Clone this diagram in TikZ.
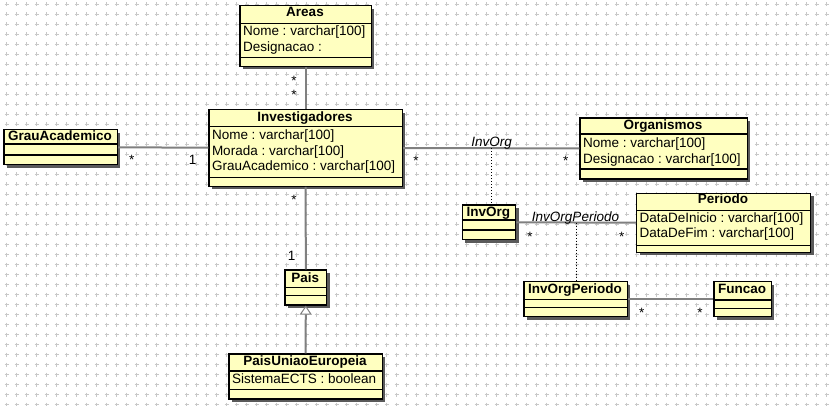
\documentclass[tikz,border=0pt]{standalone}
\usepackage{fontspec}
\setmainfont{Liberation Sans}
\usetikzlibrary{shadows,arrows.meta,calc}
\definecolor{clsfill}{HTML}{FFFFC0}
\definecolor{shadowc}{HTML}{5A5A5A}
\definecolor{assocc}{HTML}{808080}
\definecolor{gridc}{HTML}{C8C8C8}
\frenchspacing
\newcommand\umlcls[7]{% name, x1, y1, x2, y2, sep1, sep2
  \pgfmathsetmacro\clsw{#4-#2}\pgfmathsetmacro\clsh{#5-#3}%
  \node[cls, minimum width=\clsw pt, minimum height=\clsh pt, anchor=north west] (#1) at (#2,#3) {};
  \draw[sepline] (#1.west |- 0,#6) -- (#1.east |- 0,#6) (#1.west |- 0,#7) -- (#1.east |- 0,#7);
}
\begin{document}
\begin{tikzpicture}[x=1pt,y=-1pt,
  cls/.style={draw=black, line width=1.3pt, fill=clsfill, inner sep=0pt,
    drop shadow={shadow xshift=3pt, shadow yshift=-3pt, fill=shadowc, opacity=1}},
  sepline/.style={draw=black, line width=1.2pt},
  ttl/.style={font=\fontsize{13.5}{15}\selectfont\bfseries, inner sep=0pt, anchor=base},
  attr/.style={font=\fontsize{13.5}{15}\selectfont, inner sep=0pt, anchor=base west},
  mult/.style={font=\fontsize{13.5}{15}\selectfont, inner sep=0pt, anchor=base},
  aname/.style={font=\fontsize{13.5}{15}\selectfont\itshape, inner sep=0pt, anchor=base},
  assoc/.style={draw=assocc, line width=2pt},
  dotc/.style={draw=black, line width=1pt, dash pattern=on 1pt off 2pt},
  gridl/.style={draw=gridc, line width=1pt, dash pattern=on 4pt off 6pt},
]
\fill[white] (0,0) rectangle (835,406);
\useasboundingbox (0,0) rectangle (835,406);
% background grid of crosses
\foreach \j in {0,...,40} { \draw[gridl] (4.5,4.5+10*\j) -- (832,4.5+10*\j); }
\foreach \i in {0,...,82} { \draw[gridl] (6.5+10*\i,2.5) -- (6.5+10*\i,408); }

% classes
\umlcls{areas}{239.3}{5}{370.7}{65.7}{23.3}{57.3}
\umlcls{inv}{208.3}{109}{401.7}{185.7}{126.7}{177.3}
\umlcls{grau}{3.3}{129}{116.7}{164}{144}{155}
\umlcls{org}{579.3}{117.3}{746.7}{178.3}{134}{169}
\umlcls{invorg}{461.7}{204.3}{515}{239}{220}{230}
\umlcls{per}{636}{192.7}{810}{251.7}{210.7}{245.7}
\umlcls{iop}{523.3}{281}{626.7}{316}{299.3}{307.7}
\umlcls{func}{713.3}{281}{770.7}{316}{300}{308.3}
\umlcls{pais}{284.3}{269.3}{326}{304.3}{287.3}{295.7}
\umlcls{pue}{228.3}{353.3}{381.7}{398.3}{371}{389.3}

% titles
\node[ttl] (areas-t) at (305,17) {Areas};
\node[ttl] (inv-t) at (305,121.5) {Investigadores};
\node[ttl] (grau-t) at (60,140.5) {GrauAcademico};
\node[ttl] (org-t) at (663,129.5) {Organismos};
\node[ttl] (invorg-t) at (488.3,216.5) {InvOrg};
\node[ttl] (per-t) at (723,204) {Periodo};
\node[ttl] (iop-t) at (575,293.5) {InvOrgPeriodo};
\node[ttl] (func-t) at (742,293.5) {Funcao};
\node[ttl] (pais-t) at (305.2,282) {Pais};
\node[ttl] (pue-t) at (305,365) {PaisUniaoEuropeia};

% attributes
\node[attr] (areas-a1) at (242.8,36) {Nome : varchar[100]};
\node[attr] (areas-a2) at (242.8,51.2) {Designacao :};
\node[attr] (inv-a1) at (211.8,139.5) {Nome : varchar[100]};
\node[attr] (inv-a2) at (211.8,155.2) {Morada : varchar[100]};
\node[attr] (inv-a3) at (211.8,171) {GrauAcademico : varchar[100]};
\node[attr] (org-a1) at (582.8,147.3) {Nome : varchar[100]};
\node[attr] (org-a2) at (582.8,163.3) {Designacao : varchar[100]};
\node[attr] (per-a1) at (639.5,222.3) {DataDeInicio : varchar[100]};
\node[attr] (per-a2) at (639.5,237.7) {DataDeFim : varchar[100]};
\node[attr] (pue-a1) at (231.8,383.3) {SistemaECTS : boolean};

% associations
\draw[assoc] (areas) -- (inv);
\draw[assoc] (grau) -- (inv);
\draw[assoc] (inv) -- (org);
\draw[assoc] (inv) -- (pais);
\draw[assoc] (invorg) -- (per);
\draw[assoc] (iop) -- (func);
\draw[assoc, -{Triangle[open, length=9pt, width=12pt, line width=1pt, fill=white]}] (pue) -- (pais);

% association classes
\coordinate (io-mid) at ($(inv.east)!0.5!(org.west)$);
\coordinate (iop-mid) at ($(invorg.east)!0.5!(per.west)$);
\draw[dotc] (io-mid) -- (io-mid |- invorg.north);
\draw[dotc] (iop-mid) -- (iop-mid |- iop.north);
\node[aname] (io-name) at (491.7,146.5) {InvOrg};
\node[aname] (iop-name) at (575.5,221.5) {InvOrgPeriodo};

% multiplicities
\node[mult] (m1) at (294,86) {*};
\node[mult] (m2) at (294,99.4) {*};
\node[mult] (m3) at (131.7,164.4) {*};
\node[mult] (m4) at (192.7,165) {1};
\node[mult] (m5) at (416,166) {*};
\node[mult] (m6) at (565.7,166) {*};
\node[mult] (m7) at (294,205) {*};
\node[mult] (m8) at (291.7,260) {1};
\node[mult] (m9) at (530,241) {*};
\node[mult] (m10) at (621.7,241) {*};
\node[mult] (m11) at (641.7,317) {*};
\node[mult] (m12) at (700,317) {*};
\end{tikzpicture}
\end{document}
